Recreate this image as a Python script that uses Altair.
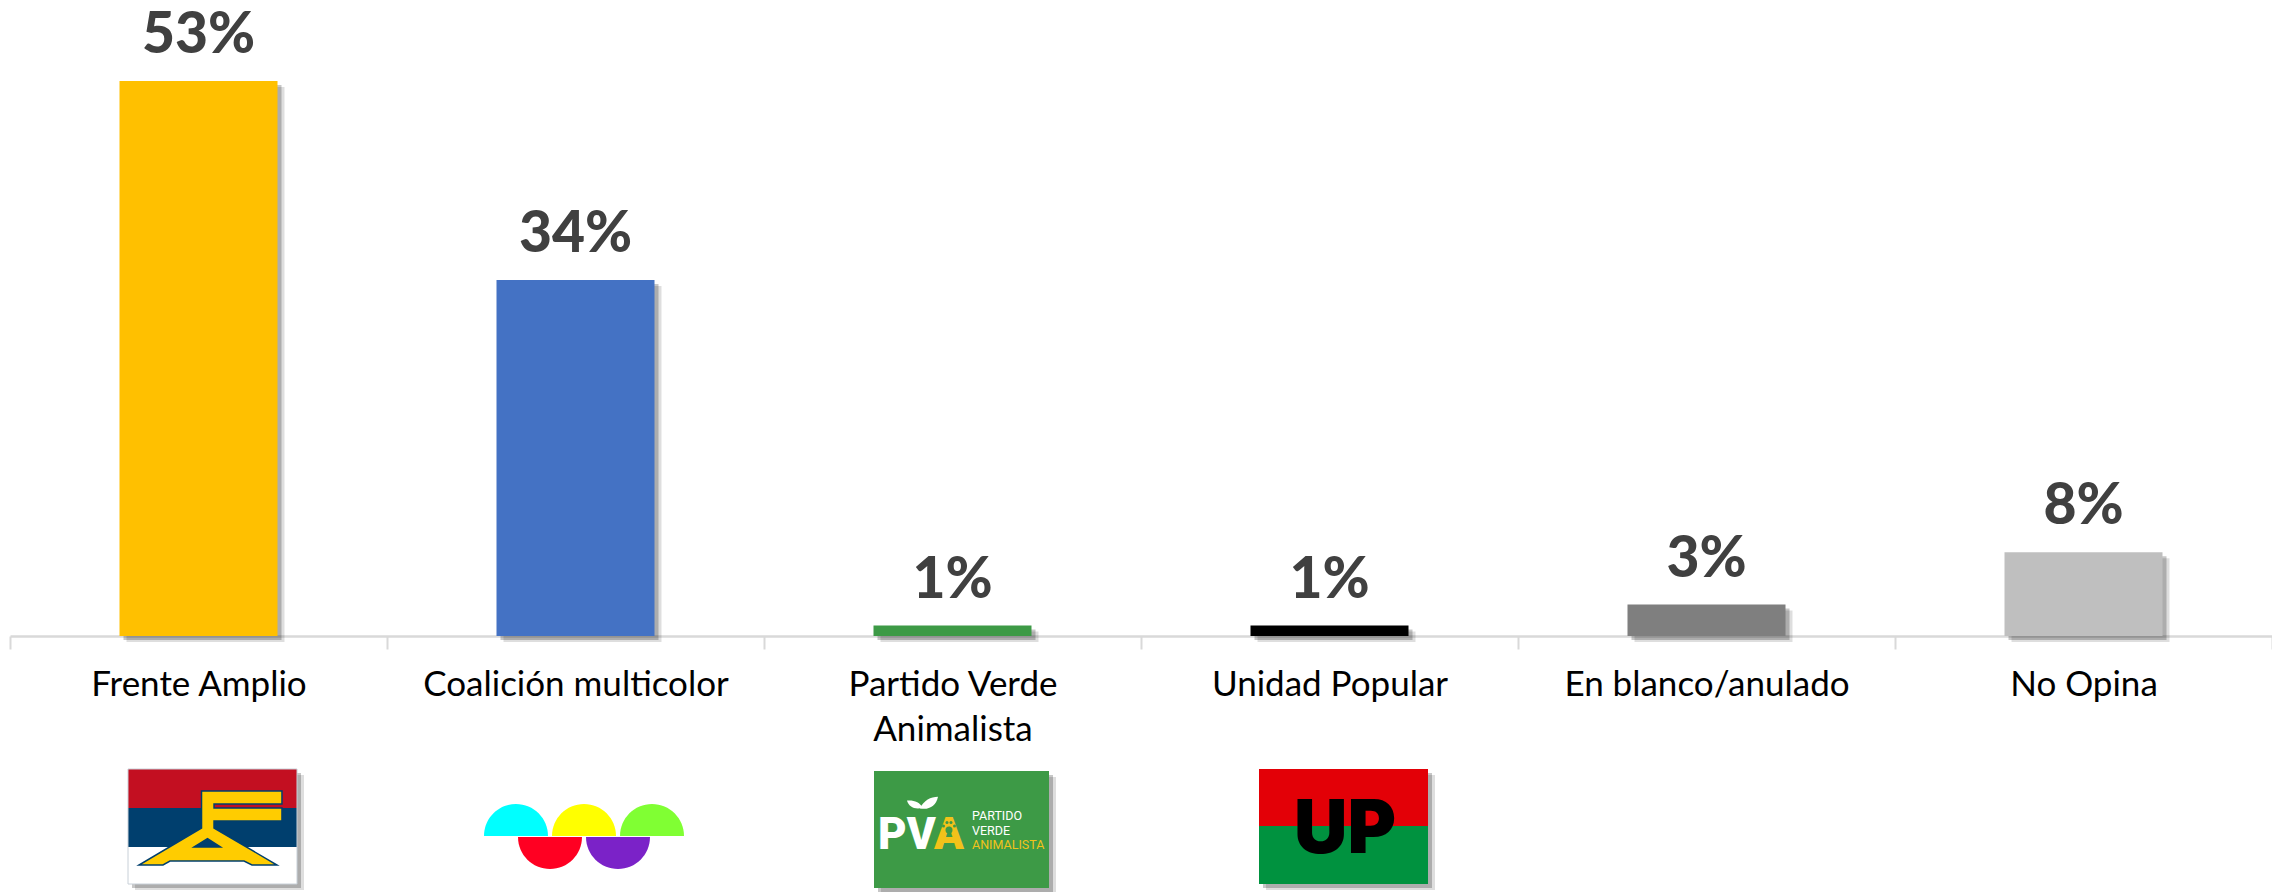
import altair as alt
import pandas as pd

categories = ["Frente Amplio", "Coalición multicolor", "Partido Verde|Animalista",
              "Unidad Popular", "En blanco/anulado", "No Opina"]
values = [53, 34, 1, 1, 3, 8]
bar_colors = ["#FFC000", "#4472C4", "#3D9A46", "#000000", "#7F7F7F", "#BFBFBF"]
data = pd.DataFrame({"cat": categories, "value": values,
                     "label": [f"{v}%" for v in values]})

W, H = 2262, 628
X0 = 10
FONT = "Lato"
x_band = alt.Scale(domain=categories, paddingInner=0, paddingOuter=0)
y_val = alt.Scale(domain=[0, H / 10.47], nice=False)
base = alt.Chart(data)
x_plain = alt.X("cat:N", sort=categories, scale=x_band, axis=None)
y_plain = alt.Y("value:Q", scale=y_val, axis=None)

shadow1 = base.mark_bar(color="#000000", opacity=0.13, xOffset=7, yOffset=6, y2Offset=6,
                        width=158).encode(x=x_plain, y=y_plain, y2=alt.datum(0))
shadow2 = base.mark_bar(color="#000000", opacity=0.22, xOffset=4, yOffset=4, y2Offset=4,
                        width=158).encode(x=x_plain, y=y_plain, y2=alt.datum(0))

axis_layer = base.mark_bar(width=158, clip=False).encode(
    x=alt.X("cat:N", sort=categories, scale=x_band, title=None, axis=alt.Axis(
        labelAngle=0, labelFont=FONT, labelFontSize=35, labelColor="#000000",
        labelPadding=18, labelLimit=500, labelLineHeight=45, labelBaseline="top",
        labelExpr="split(datum.label, '|')",
        domainColor="#D9D9D9", domainWidth=2.5, tickColor="#D9D9D9", tickWidth=2,
        tickSize=13, tickBand="extent", grid=False)),
    y=alt.Y("value:Q", scale=y_val, axis=None),
    color=alt.Color("cat:N", scale=alt.Scale(domain=categories, range=bar_colors), legend=None),
)
text_layer = base.mark_text(font=FONT, fontWeight=900, fontSize=57, color="#404040",
                            baseline="bottom", dy=-16).encode(
    x=x_plain, y=y_plain, text="label:N")

# ---- logos, drawn in the picture's own units ----
px = alt.Scale(domain=[X0, X0 + W], range=[0, W], nice=False, zero=False)
py = alt.Scale(domain=[8 + H, 8], range=[H, 0], nice=False, zero=False)
X = alt.X("x:Q", scale=px, axis=None)
X2 = alt.X2("x2:Q")
Y = alt.Y("y:Q", scale=py, axis=None)
Y2 = alt.Y2("y2:Q")
CLR = alt.Color("c:N", scale=None, legend=None)

logo_shadows = pd.DataFrame({
    "x": [128, 874, 1259], "x2": [297, 1049, 1428],
    "y": [769, 771, 769], "y2": [884, 888, 884]})
logo_rects = pd.DataFrame([
    (128, 297, 769, 808, "#C30F21"), (128, 297, 808, 847, "#003F6E"),
    (128, 297, 847, 884, "#FFFFFF"),
    (874, 1049, 771, 888, "#3D9A46"),
    (1259, 1428, 769, 826, "#E30007"), (1259, 1428, 826, 884, "#00923F"),
], columns=["x", "x2", "y", "y2", "c"])

shadow_a = alt.Chart(logo_shadows).mark_rect(color="#000000", opacity=0.13, xOffset=7, yOffset=6,
                                             x2Offset=7, y2Offset=6).encode(x=X, x2=X2, y=Y, y2=Y2)
shadow_b = alt.Chart(logo_shadows).mark_rect(color="#000000", opacity=0.22, xOffset=4, yOffset=4,
                                             x2Offset=4, y2Offset=4).encode(x=X, x2=X2, y=Y, y2=Y2)
rects = alt.Chart(logo_rects).mark_rect().encode(x=X, x2=X2, y=Y, y2=Y2, color=CLR)
frame = alt.Chart(logo_shadows.iloc[[0]]).mark_rect(fillOpacity=0, stroke="#C8D0D8", strokeWidth=1).encode(
    x=X, x2=X2, y=Y, y2=Y2)

# Frente Amplio emblem outline
def path(points_list, cx, cy, half):
    out = ""
    for pts in points_list:
        out += "M" + " L".join(f"{(a - cx) / half:.3f},{(b - cy) / half:.3f}" for a, b in pts) + " Z "
    return out

fa_outer = [(201.5, 791), (282, 791), (282, 804), (214, 804), (214, 808), (282, 808),
            (282, 821), (214, 821), (214, 828), (277, 865), (252, 865), (244, 861),
            (170, 861), (163, 865), (139, 865), (201.5, 828)]
fa_hole = [(194, 847), (220.5, 847), (207.5, 838.7)]
fa_shape = path([fa_outer, fa_hole], 212, 828, 84.5)
emblem = pd.DataFrame({"x": [212], "y": [828]})
fa = alt.Chart(emblem).mark_point(shape=fa_shape, filled=True, fill="#FFCC00", stroke="#003F6E",
                                  strokeWidth=1.5, opacity=1, size=169 ** 2).encode(x=X, y=Y)

# Coalición multicolor semicircles
domes = pd.DataFrame({"x": [516, 584, 652], "y": [836] * 3, "c": ["#00FFFF", "#FFFF00", "#80FF33"]})
bowls = pd.DataFrame({"x": [550, 618], "y": [837] * 2, "c": ["#FF0022", "#7B22C8"]})
dome = alt.Chart(domes).mark_point(shape="M-1,0 A1,1 0 0 1 1,0 Z", filled=True, opacity=1,
                                   size=64 ** 2).encode(x=X, y=Y, fill=alt.Fill("c:N", scale=None, legend=None),
                                                        stroke=alt.value(None))
bowl = alt.Chart(bowls).mark_point(shape="M-1,0 A1,1 0 0 0 1,0 Z", filled=True, opacity=1,
                                   size=64 ** 2).encode(x=X, y=Y, fill=alt.Fill("c:N", scale=None, legend=None),
                                                        stroke=alt.value(None))

# PVA leaf and paw
leaf_shape = "M-1,0.6 C-0.6,-0.3 0.2,-0.7 1,-0.7 C0.8,0.3 0,0.8 -1,0.6 Z"
leaves = pd.DataFrame({"x": [929], "y": [803]})
leaves2 = pd.DataFrame({"x": [915], "y": [803]})
leaf_r = alt.Chart(leaves).mark_point(shape=leaf_shape, filled=True, fill="#FFFFFF", opacity=1, size=18 ** 2).encode(x=X, y=Y)
leaf_l = alt.Chart(leaves2).mark_point(shape="M1,0.6 C0.6,-0.1 -0.2,-0.4 -1,-0.3 C-0.8,0.5 0,0.9 1,0.6 Z",
                                       filled=True, fill="#FFFFFF", opacity=1, size=16 ** 2).encode(x=X, y=Y)
paw = pd.DataFrame({"x": [949, 943.5, 947, 951, 954.5], "y": [830, 826, 822.5, 822.5, 826], "s": [49, 9, 9, 9, 9]})
paw_m = alt.Chart(paw).mark_point(shape="circle", filled=True, fill="#3D9A46", opacity=1).encode(
    x=X, y=Y, size=alt.Size("s:Q", scale=None, legend=None))

# Logo lettering
pv = pd.DataFrame({"x": [878], "y": [849], "t": ["PV"]})
a_ = pd.DataFrame({"x": [934], "y": [849], "t": ["A"]})
small = pd.DataFrame({"x": [972, 972, 972], "y": [820, 835, 849],
                      "t": ["PARTIDO", "VERDE", "ANIMALISTA"], "c": ["#FFFFFF", "#FFFFFF", "#F2C21A"]})
T = alt.Text("t:N")
pv_t = alt.Chart(pv).mark_text(font="Roboto", fontWeight=900, fontSize=44, color="#FFFFFF", align="left",
                               baseline="alphabetic").encode(x=X, y=Y, text=T)
a_t = alt.Chart(a_).mark_text(font="Roboto", fontWeight=900, fontSize=44, color="#F2C21A", align="left",
                              baseline="alphabetic").encode(x=X, y=Y, text=T)
small_t = alt.Chart(small).mark_text(font="Roboto", fontSize=12.5, align="left",
                                     baseline="alphabetic").encode(x=X, y=Y, text=T, color=CLR)
up = pd.DataFrame({"x": [1345], "y": [853], "t": ["UP"]})
up_t = alt.Chart(up).mark_text(font="Inter", fontWeight=900, fontSize=74, color="#000000", align="center",
                               baseline="alphabetic").encode(x=X, y=Y, text=T)

chart = alt.layer(
    shadow1, shadow2, axis_layer, text_layer,
    shadow_a, shadow_b, rects, frame, fa, dome, bowl, leaf_r, leaf_l, pv_t, a_t, paw_m, small_t, up_t,
).resolve_scale(x="independent", y="independent", color="independent", fill="independent",
                size="independent").properties(
    width=W, height=H, background="#FFFFFF",
    autosize=alt.AutoSizeParams(type="none"),
    padding={"left": X0 - 8, "top": 0, "right": 0, "bottom": 256},
).configure_view(stroke=None)

chart.save("out.html", embed_options={"renderer": "svg", "actions": False})
